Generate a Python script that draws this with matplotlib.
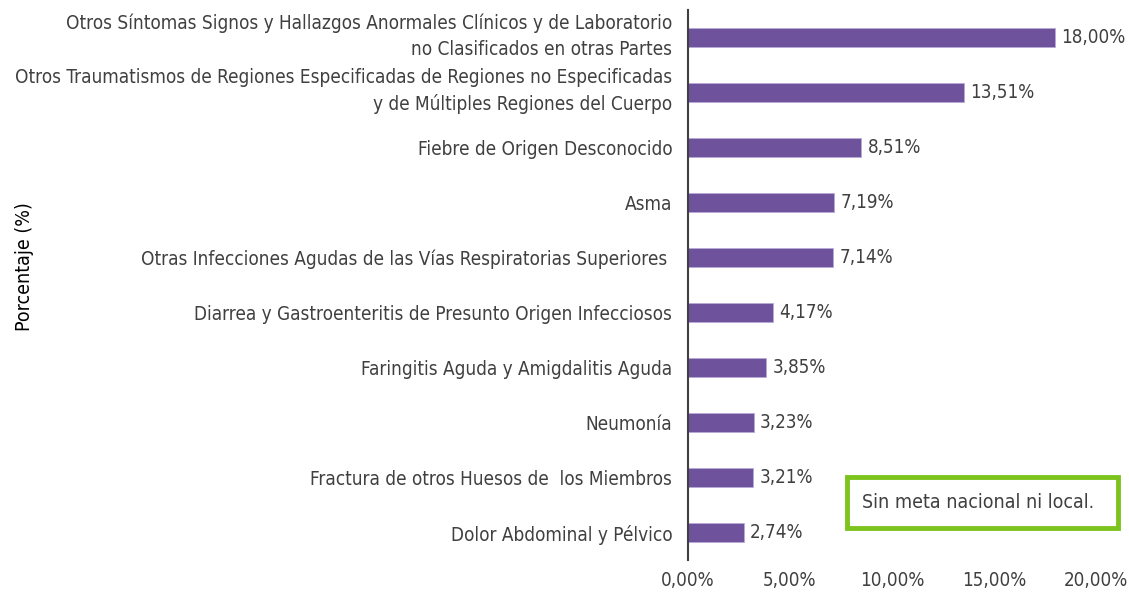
import matplotlib.pyplot as plt
from matplotlib.patches import Rectangle
from matplotlib.transforms import ScaledTranslation

# Data (top to bottom as shown)
categories = [
    "Otros Síntomas Signos y Hallazgos Anormales Clínicos y de Laboratorio\nno Clasificados en otras Partes",
    "Otros Traumatismos de Regiones Especificadas de Regiones no Especificadas\ny de Múltiples Regiones del Cuerpo",
    "Fiebre de Origen Desconocido",
    "Asma",
    "Otras Infecciones Agudas de las Vías Respiratorias Superiores ",
    "Diarrea y Gastroenteritis de Presunto Origen Infecciosos",
    "Faringitis Aguda y Amigdalitis Aguda",
    "Neumonía",
    "Fractura de otros Huesos de  los Miembros",
    "Dolor Abdominal y Pélvico",
]
values = [18.00, 13.51, 8.51, 7.19, 7.14, 4.17, 3.85, 3.23, 3.21, 2.74]
xticks = [0, 5, 10, 15, 20]

plt.rcParams['font.family'] = ['DejaVu Sans']
plt.rcParams['font.stretch'] = 'condensed'
text_color = "#404040"
bar_color = "#6E529B"

fig = plt.figure(figsize=(11.29, 5.92), dpi=100)
ax = fig.add_axes([0.609, 0.054, 0.362, 0.929])

pos = list(range(len(values) - 1, -1, -1))
ax.barh(pos, values, height=0.35, color=bar_color, edgecolor="#B9A8D6", linewidth=0.6)

for p, v in zip(pos, values):
    ax.text(v + 0.3, p, f"{v:.2f}%".replace(".", ","), va="center", ha="left",
            fontsize=13.5, color=text_color)

ax.set_yticks(pos)
ax.set_yticklabels(categories, fontsize=13.6, color=text_color, linespacing=1.45)
ax.set_xticks(xticks)
ax.set_xticklabels([f"{t:.2f}%".replace(".", ",") for t in xticks], fontsize=13.5, color=text_color)
ax.set_xlim(0, 20)
ax.set_ylim(-0.5, 9.5)
ax.tick_params(axis="both", length=0, pad=8)
ax.tick_params(axis="y", pad=11)

# two-line labels sit a bit higher in the original
shift = ScaledTranslation(0, 7 / 100, fig.dpi_scale_trans)
for lab in ax.get_yticklabels():
    if "\n" in lab.get_text():
        lab.set_transform(lab.get_transform() + shift)

for s in ["top", "right", "bottom"]:
    ax.spines[s].set_visible(False)
ax.spines["left"].set_color("#404040")
ax.spines["left"].set_linewidth(1.5)

fig.text(0.022, 0.55, "Porcentaje (%)", rotation=90, va="center", ha="center",
         fontsize=14, color="black")

# Annotation box
fig.patches.append(Rectangle((847 / 1129, 1 - 528 / 592), 271 / 1129, 51 / 592,
                             transform=fig.transFigure, fill=False,
                             edgecolor="#7DC31E", linewidth=3.5))
fig.text(862 / 1129, 1 - 502 / 592, "Sin meta nacional ni local.", va="center",
         ha="left", fontsize=14, color=text_color)

fig.savefig("out.png", dpi=100)
